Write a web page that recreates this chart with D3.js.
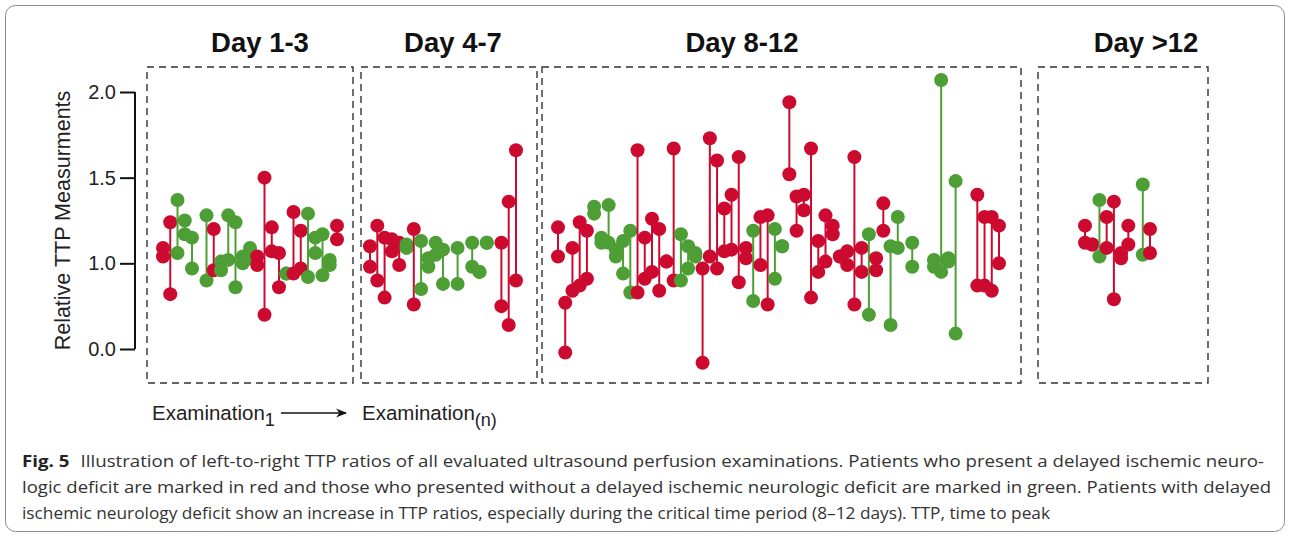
<!DOCTYPE html>
<html>
<head>
<meta charset="utf-8">
<script src="https://cdn.jsdelivr.net/npm/d3@7"></script>
<style>
  body { margin: 0; background: #fff; }
  svg { display: block; }
</style>
</head>
<body>
<div id="chart"></div>
<script>
// ---- data ----
// groups: R = delayed ischemic neurologic deficit, G = none, null = empty slot
const panelTitles = ["Day 1-3", "Day 4-7", "Day 8-12", "Day >12"];

const day1Group = ["R","R","G","G","G",null,"G","R","G","G","G","G","G","R","R","R","R","G","R","R","G","G","G","G","R"];
const day1First = [1.09,1.24,1.37,1.25,1.15,null,1.28,1.20,1.01,1.28,1.24,1.04,1.09,1.04,1.50,1.21,1.06,0.94,1.30,1.19,1.29,1.15,1.17,1.02,1.22];
const day1Last  = [1.04,0.82,1.06,1.17,0.97,null,0.90,0.96,0.96,1.02,0.86,1.00,1.03,0.99,0.70,1.07,0.86,0.94,0.94,0.97,0.92,1.06,0.93,0.99,1.14];

const day4Group = ["R","R","R","R","R","G","R","G","G","G","G",null,"G",null,"G","G","G",null,"R","R","R"];
const day4First = [1.10,1.22,1.15,1.14,1.12,1.11,1.20,1.13,1.03,1.12,1.08,null,1.09,null,1.12,0.95,1.12,null,1.12,1.36,1.66];
const day4Last  = [0.98,0.90,0.80,1.07,0.99,1.09,0.76,0.85,0.98,1.05,0.88,null,0.88,null,0.98,0.95,1.12,null,0.75,0.64,0.90];

const day8Group = ["R","R","R","R","R","G","G","G","G","G","G","R","R","R","R","R","R","G","G","G",
                   "R","R","R","R","R","R","R","G","R","R","G","G","R","R","R","R","R","R","R","R",
                   "R","R","R","G","R","R","G","G",null,"G",null,null,"G","G","G","G",null,null,"R","R",
                   "R","R"];
const day8First = [1.21,0.77,1.09,1.24,1.19,1.33,1.15,1.34,1.08,1.13,1.19,1.66,1.15,1.26,1.20,1.01,1.67,1.17,1.10,1.06,
                   0.97,1.73,1.60,1.32,1.40,1.62,1.09,1.19,1.27,1.28,1.20,1.10,1.94,1.39,1.40,1.67,1.13,1.28,1.22,1.04,
                   1.07,1.62,1.09,1.17,1.03,1.35,1.10,1.27,null,1.12,null,null,1.02,2.07,1.03,1.48,null,null,1.40,1.27,
                   1.27,1.22];
const day8Last  = [1.04,0.48,0.84,0.87,0.91,1.29,1.12,1.12,1.04,0.94,0.83,0.83,0.91,0.95,0.84,1.01,0.90,0.90,0.97,1.04,
                   0.42,1.04,0.97,1.07,1.08,0.89,1.03,0.78,0.99,0.76,0.91,1.10,1.52,1.19,1.31,0.80,0.95,1.01,1.17,1.04,
                   0.99,0.76,0.95,0.70,0.96,1.19,0.64,1.09,null,0.98,null,null,0.98,0.95,1.01,0.59,null,null,0.87,0.87,
                   0.84,1.00];

const day12Group = ["R","R","G","R","R","R","R",null,"G","R"];
const day12First = [1.22,1.11,1.37,1.27,1.36,1.06,1.22,null,1.46,1.20];
const day12Last  = [1.12,1.11,1.04,1.09,0.79,1.03,1.11,null,1.05,1.06];

const yTickValues = [2.0, 1.5, 1.0, 0.5];
const yTickLabels = ["2.0", "1.5", "1.0", "0.0"];
const yLabel = "Relative TTP Measurments";

const captionLines = [
  "Illustration of left-to-right TTP ratios of all evaluated ultrasound perfusion examinations. Patients who present a delayed ischemic neuro-",
  "logic deficit are marked in red and those who presented without a delayed ischemic neurologic deficit are marked in green. Patients with delayed",
  "ischemic neurology deficit show an increase in TTP ratios, especially during the critical time period (8–12 days). TTP, time to peak"
];

// ---- layout ----
const W = 1290, H = 536;
const colors = { R: "#cc0a2f", G: "#4c9e35" };
const boxTop = 67, boxBottom = 383;
const panels = [
  { x0: 147, x1: 353, c0: 163, c1: 337, tx: 260, group: day1Group, first: day1First, last: day1Last },
  { x0: 361, x1: 537, c0: 370, c1: 516, tx: 453, group: day4Group, first: day4First, last: day4Last },
  { x0: 542, x1: 1021, c0: 558, c1: 999, tx: 742, group: day8Group, first: day8First, last: day8Last },
  { x0: 1038, x1: 1208, c0: 1085, c1: 1150, tx: 1146, group: day12Group, first: day12First, last: day12Last }
];

const svg = d3.select("#chart").append("svg")
  .attr("width", W).attr("height", H);

// outer frame
svg.append("rect")
  .attr("x", 5.5).attr("y", 5.5)
  .attr("width", W - 11).attr("height", H - 10)
  .attr("rx", 10)
  .attr("fill", "none").attr("stroke", "#8a8a8a").attr("stroke-width", 1);

const y = d3.scaleLinear().domain([0.5, 2.0]).range([349, 92]);

// y axis
const axis = svg.append("g")
  .attr("transform", "translate(135,0)")
  .call(d3.axisLeft(y).tickValues(yTickValues).tickSize(15)
    .tickFormat((d, i) => yTickLabels[i]));
axis.select(".domain").attr("stroke", "#111").attr("stroke-width", 2)
  .attr("d", "M0," + y(2.0) + "V" + y(0.5));
axis.selectAll(".tick line").attr("stroke", "#111").attr("stroke-width", 2);
axis.selectAll(".tick text")
  .attr("font-family", "'Liberation Sans', Arial, sans-serif")
  .attr("font-size", 20).attr("fill", "#222").attr("x", -19);

svg.append("text")
  .attr("transform", "translate(70," + ((y(2.0) + y(0.5)) / 2) + ") rotate(-90)")
  .attr("text-anchor", "middle")
  .attr("font-family", "'Liberation Sans', Arial, sans-serif")
  .attr("font-size", 21.5).attr("fill", "#222")
  .text(yLabel);

// panels
panels.forEach((p, pi) => {
  const g = svg.append("g");
  g.append("rect")
    .attr("x", p.x0).attr("y", boxTop)
    .attr("width", p.x1 - p.x0).attr("height", boxBottom - boxTop)
    .attr("fill", "none").attr("stroke", "#333")
    .attr("stroke-width", 1.4).attr("stroke-dasharray", "7,5");

  g.append("text")
    .attr("x", p.tx).attr("y", 52)
    .attr("text-anchor", "middle")
    .attr("font-family", "'Liberation Sans', Arial, sans-serif")
    .attr("font-weight", "bold").attr("font-size", 27.5).attr("fill", "#111")
    .text(panelTitles[pi]);

  const x = d3.scaleLinear().domain([0, p.group.length - 1]).range([p.c0, p.c1]);
  const rows = p.group.map((grp, i) => ({ i, grp, a: p.first[i], b: p.last[i] }))
    .filter(d => d.grp !== null);

  const pt = g.selectAll(".pt").data(rows).enter().append("g").attr("class", "pt");
  pt.append("line")
    .attr("x1", d => x(d.i)).attr("x2", d => x(d.i))
    .attr("y1", d => y(d.a)).attr("y2", d => y(d.b))
    .attr("stroke", d => colors[d.grp]).attr("stroke-width", 2);
  pt.append("circle")
    .attr("cx", d => x(d.i)).attr("cy", d => y(d.a)).attr("r", 7)
    .attr("fill", d => colors[d.grp]);
  pt.append("circle")
    .attr("cx", d => x(d.i)).attr("cy", d => y(d.b)).attr("r", 7)
    .attr("fill", d => colors[d.grp]);
});

// examination arrow label
const exFont = "'Liberation Sans', Arial, sans-serif";
const ex1 = svg.append("text").attr("x", 152).attr("y", 420)
  .attr("font-family", exFont).attr("font-size", 20.5).attr("fill", "#222");
ex1.append("tspan").text("Examination");
ex1.append("tspan").attr("dy", 6).attr("font-size", 18).text("1");

svg.append("defs").append("marker")
  .attr("id", "arr").attr("viewBox", "0 0 10 10")
  .attr("refX", 9).attr("refY", 5)
  .attr("markerWidth", 11).attr("markerHeight", 11)
  .attr("markerUnits", "userSpaceOnUse")
  .attr("orient", "auto")
  .append("path").attr("d", "M0,1L10,5L0,9L3,5Z").attr("fill", "#111");
svg.append("line")
  .attr("x1", 281).attr("x2", 346).attr("y1", 413).attr("y2", 413)
  .attr("stroke", "#111").attr("stroke-width", 1.3)
  .attr("marker-end", "url(#arr)");

const ex2 = svg.append("text").attr("x", 362).attr("y", 420)
  .attr("font-family", exFont).attr("font-size", 20.5).attr("fill", "#222");
ex2.append("tspan").text("Examination");
ex2.append("tspan").attr("dy", 6).attr("font-size", 18).text("(n)");

// caption
const capFont = "'Open Sans', 'Noto Sans', sans-serif";
const capY = [467, 493, 519];
const cap = captionLines.map((t, i) => {
  const el = svg.append("text").attr("x", 22).attr("y", capY[i])
    .attr("font-family", capFont).attr("font-size", 16.5).attr("fill", "#333");
  if (i === 0) {
    el.append("tspan").attr("font-weight", "bold").attr("fill", "#222").text("Fig. 5");
    el.append("tspan").attr("dx", 10).text(t);
  } else {
    el.text(t);
  }
  return el;
});
cap[0].attr("textLength", 1264 - 22).attr("lengthAdjust", "spacingAndGlyphs");
cap[1].attr("textLength", 1271 - 22).attr("lengthAdjust", "spacingAndGlyphs");
cap[2].attr("textLength", 1050 - 22).attr("lengthAdjust", "spacingAndGlyphs");
</script>
</body>
</html>
